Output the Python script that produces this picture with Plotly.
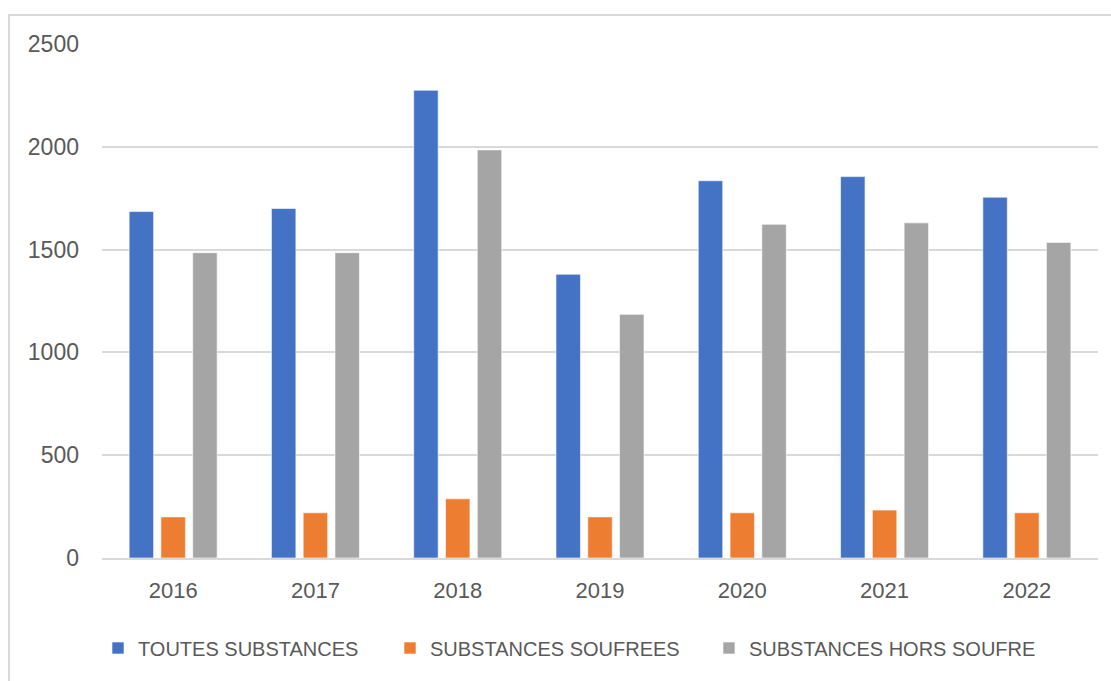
import plotly.graph_objects as go

years = ["2016", "2017", "2018", "2019", "2020", "2021", "2022"]
toutes = [1685, 1700, 2275, 1380, 1835, 1855, 1755]
soufrees = [200, 220, 288, 200, 220, 233, 220]
hors_soufre = [1485, 1485, 1985, 1185, 1623, 1630, 1535]

series = [
    ("TOUTES SUBSTANCES", toutes, "#4472C4", "legend"),
    ("SUBSTANCES SOUFREES", soufrees, "#ED7D31", "legend2"),
    ("SUBSTANCES HORS SOUFRE", hors_soufre, "#A5A5A5", "legend3"),
]

fig = go.Figure()
for name, vals, color, leg in series:
    fig.add_trace(go.Bar(
        x=years, y=vals, name=name, legend=leg, showlegend=True,
        marker=dict(color=color, line=dict(color="rgba(255,255,255,0.6)", width=1)),
    ))

W, H = 1111, 681
L, R, T, B = 102, 13, 44, 123
pw, ph = W - L - R, H - T - B

def px_x(x):
    return (x - L) / pw

def px_y(y):
    return (H - B - y) / ph

font = "Liberation Sans, Arial, sans-serif"
leg_common = dict(
    orientation="h", yanchor="middle", xanchor="left", y=px_y(648),
    font=dict(family=font, size=20, color="#595959"),
    bgcolor="rgba(0,0,0,0)", itemclick=False, itemdoubleclick=False,
)

fig.update_layout(
    width=W, height=H,
    margin=dict(l=L, r=R, t=T, b=B),
    paper_bgcolor="white", plot_bgcolor="white",
    showlegend=True,
    barmode="group", bargap=0.33, bargroupgap=0.23,
    font=dict(family=font, color="#595959"),
    xaxis=dict(
        showgrid=False, showline=True, linecolor="#D9D9D9", linewidth=2,
        ticks="", tickfont=dict(size=22, color="#595959"), ticklabelstandoff=12,
    ),
    yaxis=dict(
        range=[0, 2500], dtick=500, showgrid=True, gridcolor="#D9D9D9", gridwidth=1.5,
        zeroline=False, showline=False, ticks="",
        tickfont=dict(size=23, color="#595959"), ticklabelstandoff=22,
    ),
    legend=dict(x=px_x(112 - 14), **leg_common),
    legend2=dict(x=px_x(404 - 14), **leg_common),
    legend3=dict(x=px_x(723 - 14), **leg_common),
    shapes=[dict(
        type="rect", xref="paper", yref="paper",
        x0=px_x(9), y0=px_y(700), x1=px_x(1130), y1=px_y(15),
        line=dict(color="#D9D9D9", width=2), fillcolor="rgba(0,0,0,0)", layer="below",
    )],
)

fig.write_html("out.html")
